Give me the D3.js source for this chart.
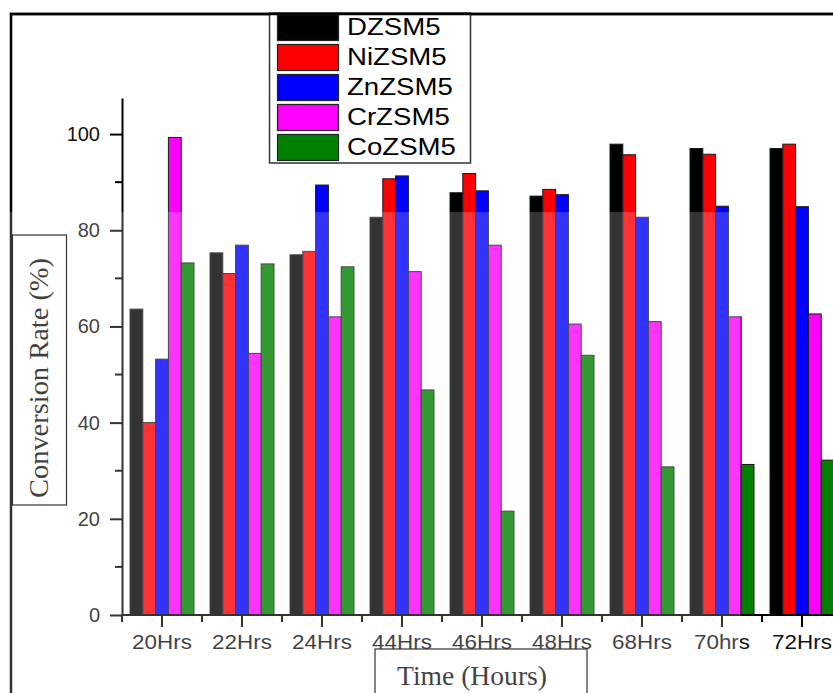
<!DOCTYPE html>
<html>
<head>
<meta charset="utf-8">
<script src="https://cdn.jsdelivr.net/npm/d3@7"></script>
<style>
  body { margin: 0; background: #fff; }
  svg { display: block; }
</style>
</head>
<body>
<div id="chart"></div>
<script>
const categories = ["20Hrs", "22Hrs", "24Hrs", "44Hrs", "46Hrs", "48Hrs", "68Hrs", "70hrs", "72Hrs"];
const seriesNames = ["DZSM5", "NiZSM5", "ZnZSM5", "CrZSM5", "CoZSM5"];
const dzsm5 = [63.6, 75.3, 74.9, 82.7, 87.8, 87.1, 97.9, 97.0, 97.0];
const nizsm5 = [40.0, 71.0, 75.6, 90.7, 91.8, 88.5, 95.7, 95.8, 97.9];
const znzsm5 = [53.2, 76.9, 89.4, 91.3, 88.2, 87.4, 82.7, 85.0, 84.9];
const crzsm5 = [99.3, 54.4, 62.0, 71.4, 76.9, 60.5, 61.0, 62.0, 62.6];
const cozsm5 = [73.2, 73.0, 72.4, 46.8, 21.6, 54.0, 30.8, 31.3, 32.2];
const yTicks = [0, 20, 40, 60, 80, 100];
const yMinorTicks = [10, 30, 50, 70, 90];

const seriesValues = [dzsm5, nizsm5, znzsm5, crzsm5, cozsm5];
const colors = ["#000000", "#ff0000", "#0000ff", "#ff00ff", "#008000"];

const W = 833, H = 693;
const svg = d3.select("#chart").append("svg")
  .attr("width", W)
  .attr("height", H);

const x = d3.scaleBand().domain(categories).range([122, 842])
  .paddingInner(0.2).paddingOuter(0.1);
const xs = d3.scaleBand().domain(seriesNames).range([0, x.bandwidth()]);
const y = d3.scaleLinear().domain([0, 107.5]).range([615, 98]);

// outer frame
svg.append("rect")
  .attr("x", 11).attr("y", 14)
  .attr("width", 900).attr("height", 900)
  .attr("fill", "none").attr("stroke", "#000").attr("stroke-width", 2.5);

// bars
const rows = [];
categories.forEach((c, i) => {
  seriesNames.forEach((s, j) => rows.push({cat: c, series: s, value: seriesValues[j][i], color: colors[j]}));
});

svg.append("g").selectAll("rect")
  .data(rows)
  .enter()
  .append("rect")
  .attr("x", d => x(d.cat) + xs(d.series))
  .attr("y", d => y(d.value))
  .attr("width", xs.bandwidth())
  .attr("height", d => y(0) - y(d.value))
  .attr("fill", d => d.color)
  .attr("stroke", "#1a1a1a")
  .attr("stroke-width", 1);

// y axis
const yAxis = svg.append("g").attr("transform", "translate(122,0)");
yAxis.call(d3.axisLeft(y).tickValues(yTicks).tickSize(12).tickPadding(10).tickSizeOuter(0));
yAxis.select(".domain").attr("stroke-width", 2);
yAxis.selectAll(".tick line").attr("stroke-width", 2);
yAxis.selectAll(".tick text")
  .style("font-family", "'Liberation Sans', Arial, sans-serif")
  .style("font-size", "20px")
  .attr("fill", "#111");
yAxis.append("g").selectAll("line")
  .data(yMinorTicks)
  .enter()
  .append("line")
  .attr("x1", -7).attr("x2", 0)
  .attr("y1", d => y(d)).attr("y2", d => y(d))
  .attr("stroke", "#000").attr("stroke-width", 2);

// x axis
const xAxis = svg.append("g").attr("transform", "translate(0,615)");
xAxis.append("line")
  .attr("x1", 122).attr("x2", 842)
  .attr("stroke", "#000").attr("stroke-width", 2);
xAxis.selectAll(".major")
  .data(categories)
  .enter()
  .append("line")
  .attr("class", "major")
  .attr("x1", d => x(d) + x.bandwidth() / 2).attr("x2", d => x(d) + x.bandwidth() / 2)
  .attr("y1", 0).attr("y2", 12)
  .attr("stroke", "#000").attr("stroke-width", 2);
xAxis.selectAll(".minor")
  .data(categories)
  .enter()
  .append("line")
  .attr("class", "minor")
  .attr("x1", d => x(d) - x.step() * x.paddingOuter()).attr("x2", d => x(d) - x.step() * x.paddingOuter())
  .attr("y1", 0).attr("y2", 7)
  .attr("stroke", "#000").attr("stroke-width", 2);
xAxis.selectAll(".lbl")
  .data(categories)
  .enter()
  .append("text")
  .attr("class", "lbl")
  .attr("x", d => x(d) + x.bandwidth() / 2)
  .attr("y", 34)
  .attr("text-anchor", "middle")
  .style("font-family", "'Liberation Sans', Arial, sans-serif")
  .style("font-size", "20px")
  .attr("fill", "#111")
  .text(d => d)
  .each(function() {
    d3.select(this).attr("textLength", this.getComputedTextLength() * 1.12)
      .attr("lengthAdjust", "spacingAndGlyphs");
  });

// y label box
svg.append("rect")
  .attr("x", 12.5).attr("y", 235)
  .attr("width", 54).attr("height", 270)
  .attr("fill", "#fff").attr("stroke", "#000").attr("stroke-width", 1.2);
svg.append("text")
  .attr("transform", "translate(48,378) rotate(-90)")
  .attr("text-anchor", "middle")
  .style("font-family", "'Liberation Serif', 'Times New Roman', serif")
  .style("font-size", "27px")
  .attr("fill", "#111")
  .attr("textLength", 240)
  .attr("lengthAdjust", "spacingAndGlyphs")
  .text("Conversion Rate (%)");

// x label box
svg.append("rect")
  .attr("x", 375).attr("y", 649)
  .attr("width", 212).attr("height", 60)
  .attr("fill", "#fff").attr("stroke", "#000").attr("stroke-width", 1.2);
svg.append("text")
  .attr("x", 472).attr("y", 685)
  .attr("text-anchor", "middle")
  .style("font-family", "'Liberation Serif', 'Times New Roman', serif")
  .style("font-size", "27px")
  .attr("fill", "#111")
  .attr("textLength", 150)
  .attr("lengthAdjust", "spacingAndGlyphs")
  .text("Time (Hours)");

// scan lightening over the lower left part of the figure
svg.append("rect")
  .attr("x", 0).attr("y", 212)
  .attr("width", 740).attr("height", H - 212)
  .attr("fill", "#fff").attr("opacity", 0.2)
  .attr("pointer-events", "none");

// legend
const legend = svg.append("g");
legend.append("rect")
  .attr("x", 269.5).attr("y", 13)
  .attr("width", 201).attr("height", 150)
  .attr("fill", "#fff").attr("stroke", "#333").attr("stroke-width", 1.5);
const items = legend.selectAll(".item")
  .data(seriesNames)
  .enter()
  .append("g")
  .attr("class", "item")
  .attr("transform", (d, i) => `translate(0,${i * 30})`);
items.append("rect")
  .attr("x", 277.5).attr("y", d => d === seriesNames[0] ? 15 : 14.5)
  .attr("width", 61).attr("height", d => d === seriesNames[0] ? 25.5 : 26)
  .attr("fill", (d, i) => colors[i])
  .attr("stroke", "#222").attr("stroke-width", 1.2);
items.append("text")
  .attr("x", 347).attr("y", 35)
  .style("font-family", "'Liberation Sans', Arial, sans-serif")
  .style("font-size", "23px")
  .attr("fill", "#000")
  .text(d => d)
  .each(function() {
    d3.select(this).attr("textLength", this.getComputedTextLength() * 1.2)
      .attr("lengthAdjust", "spacingAndGlyphs");
  });

// redraw frame top edge over legend
svg.append("line")
  .attr("x1", 9.75).attr("x2", W)
  .attr("y1", 14).attr("y2", 14)
  .attr("stroke", "#000").attr("stroke-width", 2.5);
</script>
</body>
</html>
